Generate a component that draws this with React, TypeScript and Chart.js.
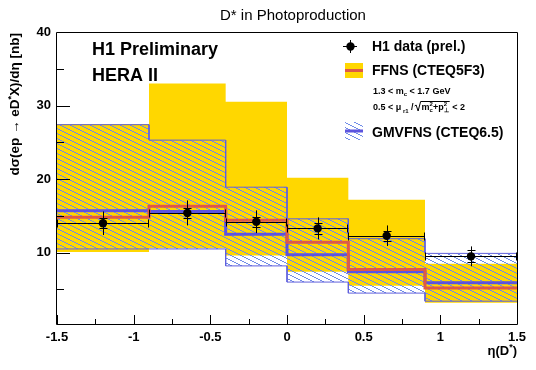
import React, { useEffect, useRef } from "react";
import { Chart, registerables } from "chart.js";

Chart.register(...registerables);

// ---- data ----
const binEdges = [-1.5, -0.9, -0.4, 0.0, 0.4, 0.9, 1.5];
const ffnsCentral = [14.8, 16.3, 14.4, 11.4, 7.7, 5.2];
const ffnsUpper = [27.5, 33.0, 30.5, 20.2, 17.2, 8.5];
const ffnsLower = [10.1, 10.6, 9.6, 7.4, 5.5, 3.2];
const gmvfnsCentral = [15.7, 15.6, 12.5, 9.7, 7.4, 5.9];
const gmvfnsUpper = [27.4, 25.3, 18.9, 14.6, 11.9, 9.9];
const gmvfnsLower = [10.5, 10.5, 8.2, 6.0, 4.5, 3.4];
const dataEta = [-1.2, -0.65, -0.2, 0.2, 0.65, 1.2];
const dataXsec = [14.0, 15.4, 14.2, 13.3, 12.3, 9.5];
const dataTotErr = [1.6, 1.7, 1.55, 1.5, 1.4, 1.35];
const dataStatErr = [0.7, 0.7, 0.7, 0.7, 0.7, 0.8];
const xMajorTicks = [-1.5, -1, -0.5, 0, 0.5, 1, 1.5];
const xTickLabels = ["-1.5", "-1", "-0.5", "0", "0.5", "1", "1.5"];
const yMajorTicks = [10, 20, 30, 40];
const yTickLabels = ["10", "20", "30", "40"];

const FONT = "'Liberation Sans', Arial, Helvetica, sans-serif";
const YELLOW = "rgb(255,215,0)";
const RED = "rgb(221,90,72)";
const BLUE = "rgb(92,84,222)";
const HATCH_BORDER = "rgb(96,96,220)";
const HATCH_LINE = "rgb(112,140,232)";

function stepPoints(edges: number[], vals: number[]) {
  const pts: { x: number; y: number }[] = [];
  vals.forEach((v, i) => {
    pts.push({ x: edges[i], y: v });
    pts.push({ x: edges[i + 1], y: v });
  });
  return pts;
}

function makeHatch(): CanvasPattern | string {
  const c = document.createElement("canvas");
  c.width = 10;
  c.height = 5;
  const g = c.getContext("2d");
  if (!g) return HATCH_LINE;
  g.fillStyle = HATCH_LINE;
  for (let x = 0; x < 10; x++) g.fillRect(x, Math.floor(x / 2), 1, 1);
  return g.createPattern(c, "repeat") || HATCH_LINE;
}

type Seg = { t: string; s: number; bold?: boolean; dy?: number; adv?: boolean };

function fontOf(sg: Seg) {
  return `${sg.bold === false ? "" : "bold "}${sg.s}px ${FONT}`;
}

function richWidth(ctx: CanvasRenderingContext2D, segs: Seg[]) {
  let w = 0;
  for (const sg of segs) {
    ctx.font = fontOf(sg);
    if (sg.adv !== false) w += ctx.measureText(sg.t).width;
  }
  return w;
}

function drawRich(ctx: CanvasRenderingContext2D, x: number, y: number, segs: Seg[], align: "left" | "right" | "center" = "left") {
  const total = richWidth(ctx, segs);
  let cx = align === "right" ? x - total : align === "center" ? x - total / 2 : x;
  ctx.textAlign = "left";
  ctx.textBaseline = "alphabetic";
  for (const sg of segs) {
    ctx.font = fontOf(sg);
    ctx.fillText(sg.t, cx, y + (sg.dy || 0));
    if (sg.adv !== false) cx += ctx.measureText(sg.t).width;
  }
  return cx;
}

const errorBarPlugin = {
  id: "h1ErrorBars",
  afterDatasetsDraw(chart: any) {
    const ctx: CanvasRenderingContext2D = chart.ctx;
    const xs = chart.scales.x;
    const ys = chart.scales.y;
    ctx.save();
    ctx.strokeStyle = "#000";
    ctx.lineWidth = 1;
    dataEta.forEach((eta, i) => {
      const px = Math.round(xs.getPixelForValue(eta)) + 0.5;
      const py = Math.round(ys.getPixelForValue(dataXsec[i])) + 0.5;
      const xl = xs.getPixelForValue(binEdges[i]);
      const xr = xs.getPixelForValue(binEdges[i + 1]);
      const yt = ys.getPixelForValue(dataXsec[i] + dataTotErr[i]);
      const yb = ys.getPixelForValue(dataXsec[i] - dataTotErr[i]);
      const st = Math.round(ys.getPixelForValue(dataXsec[i] + dataStatErr[i])) + 0.5;
      const sb = Math.round(ys.getPixelForValue(dataXsec[i] - dataStatErr[i])) + 0.5;
      ctx.beginPath();
      ctx.moveTo(xl, py);
      ctx.lineTo(xr, py);
      ctx.moveTo(Math.round(xl) + 0.5, py - 4);
      ctx.lineTo(Math.round(xl) + 0.5, py + 4);
      ctx.moveTo(Math.round(xr) - 0.5, py - 4);
      ctx.lineTo(Math.round(xr) - 0.5, py + 4);
      ctx.moveTo(px, yt);
      ctx.lineTo(px, yb);
      ctx.moveTo(px - 4, st);
      ctx.lineTo(px + 4, st);
      ctx.moveTo(px - 4, sb);
      ctx.lineTo(px + 4, sb);
      ctx.stroke();
    });
    ctx.restore();
  },
};

const makeDecorPlugin = (hatch: CanvasPattern | string) => ({
  id: "h1Decor",
  afterDraw(chart: any) {
    const ctx: CanvasRenderingContext2D = chart.ctx;
    const { left, right, top, bottom } = chart.chartArea;
    const xs = chart.scales.x;
    const ys = chart.scales.y;
    ctx.save();
    ctx.strokeStyle = "#000";
    ctx.lineWidth = 1;
    // ticks (inside)
    ctx.beginPath();
    xs.ticks.forEach((t: any) => {
      const px = Math.round(xs.getPixelForValue(t.value)) + 0.5;
      const len = t.label ? 9 : 5;
      ctx.moveTo(px, bottom);
      ctx.lineTo(px, bottom - len);
    });
    ys.ticks.forEach((t: any) => {
      const py = Math.round(ys.getPixelForValue(t.value)) + 0.5;
      const len = t.label ? 13 : 7;
      ctx.moveTo(left, py);
      ctx.lineTo(left + len, py);
    });
    ctx.stroke();
    // frame
    ctx.beginPath();
    ctx.moveTo(left - 0.5, top + 0.5);
    ctx.lineTo(right + 0.5, top + 0.5);
    ctx.lineTo(right + 0.5, bottom + 0.5);
    ctx.lineTo(left - 0.5, bottom + 0.5);
    ctx.closePath();
    ctx.stroke();

    ctx.fillStyle = "#000";
    // title
    ctx.font = `15px ${FONT}`;
    ctx.textAlign = "center";
    ctx.textBaseline = "alphabetic";
    ctx.fillText("D* in Photoproduction", 293, 20);

    // H1 labels
    drawRich(ctx, 92, 55, [{ t: "H1 Preliminary", s: 18 }]);
    drawRich(ctx, 92, 81, [{ t: "HERA II", s: 18 }]);

    // y axis title
    ctx.save();
    ctx.translate(19, 33);
    ctx.rotate(-Math.PI / 2);
    drawRich(
      ctx,
      0,
      0,
      [
        { t: "dσ(ep → eD", s: 13.5 },
        { t: "*", s: 9, dy: -5 },
        { t: "X)/dη [nb]", s: 13.5 },
      ],
      "right"
    );
    ctx.restore();

    // x axis title
    drawRich(
      ctx,
      517,
      355,
      [
        { t: "η(D", s: 13 },
        { t: "*", s: 9, dy: -5 },
        { t: ")", s: 13 },
      ],
      "right"
    );

    // legend: data
    ctx.beginPath();
    ctx.moveTo(343, 46.5);
    ctx.lineTo(357, 46.5);
    ctx.moveTo(350.5, 40);
    ctx.lineTo(350.5, 53);
    ctx.stroke();
    ctx.beginPath();
    ctx.arc(350.5, 46.5, 4.2, 0, Math.PI * 2);
    ctx.fill();
    drawRich(ctx, 372, 51, [{ t: "H1 data (prel.)", s: 14 }]);

    // legend: FFNS
    ctx.fillStyle = YELLOW;
    ctx.fillRect(345, 63, 18, 15);
    ctx.fillStyle = RED;
    ctx.fillRect(345, 69, 18, 3);
    ctx.fillStyle = "#000";
    drawRich(ctx, 372, 75, [{ t: "FFNS (CTEQ5F3)", s: 14 }]);

    drawRich(ctx, 373, 94, [
      { t: "1.3 < m", s: 9 },
      { t: "c", s: 6, dy: 2 },
      { t: " < 1.7 GeV", s: 9 },
    ]);

    const cx = drawRich(ctx, 373, 110, [
      { t: "0.5 < μ", s: 9 },
      { t: " r1", s: 6, dy: 3 },
      { t: " /", s: 9 },
    ]);
    // radical sign
    ctx.beginPath();
    ctx.moveTo(cx + 1, 106);
    ctx.lineTo(cx + 2.5, 105);
    ctx.lineTo(cx + 4.5, 111);
    ctx.lineTo(cx + 7, 101.5);
    const startB = cx + 8;
    const endB = drawRich(ctx, startB, 110, [
      { t: "m", s: 9 },
      { t: "2", s: 6, dy: -4, adv: false },
      { t: "c", s: 6, dy: 2 },
      { t: "+p", s: 9 },
      { t: "2", s: 6, dy: -4, adv: false },
      { t: "⊥", s: 6, dy: 2 },
    ]);
    ctx.lineTo(endB + 1, 101.5);
    ctx.stroke();
    drawRich(ctx, endB + 1, 110, [{ t: " < 2", s: 9 }]);

    // legend: GMVFNS
    ctx.fillStyle = hatch as any;
    ctx.fillRect(345, 122, 18, 18);
    ctx.fillStyle = BLUE;
    ctx.fillRect(345, 129.5, 18, 3);
    ctx.fillStyle = "#000";
    drawRich(ctx, 372, 137, [{ t: "GMVFNS (CTEQ6.5)", s: 14 }]);

    ctx.restore();
  },
});

function labelFrom(v: number, majors: number[], labels: string[]) {
  const i = majors.findIndex((m) => Math.abs(m - v) < 1e-9);
  return i >= 0 ? labels[i] : "";
}

export default function App() {
  const ref = useRef<HTMLCanvasElement | null>(null);

  useEffect(() => {
    document.body.style.margin = "0";
    const canvas = ref.current;
    if (!canvas) return;
    const hatch = makeHatch();
    const line = (data: any, extra: any) => ({
      type: "line",
      data,
      pointRadius: 0,
      tension: 0,
      fill: false,
      ...extra,
    });
    const chart = new Chart(canvas, {
      type: "line",
      data: {
        datasets: [
          line(stepPoints(binEdges, ffnsUpper), {
            fill: "+1",
            backgroundColor: YELLOW,
            borderColor: "rgba(0,0,0,0)",
            borderWidth: 0,
            order: 6,
          }),
          line(stepPoints(binEdges, ffnsLower), {
            borderColor: "rgba(0,0,0,0)",
            borderWidth: 0,
            order: 5,
          }),
          line(stepPoints(binEdges, gmvfnsUpper), {
            fill: "+1",
            backgroundColor: hatch,
            borderColor: HATCH_BORDER,
            borderWidth: 1,
            order: 4,
          }),
          line(stepPoints(binEdges, gmvfnsLower), {
            borderColor: HATCH_BORDER,
            borderWidth: 1,
            order: 3,
          }),
          line(stepPoints(binEdges, gmvfnsCentral), {
            borderColor: BLUE,
            borderWidth: 3,
            order: 2,
          }),
          line(stepPoints(binEdges, ffnsCentral), {
            borderColor: RED,
            borderWidth: 3,
            order: 1,
          }),
          {
            type: "scatter",
            data: dataEta.map((x, i) => ({ x, y: dataXsec[i] })),
            pointRadius: 4.2,
            pointBackgroundColor: "#000",
            pointBorderWidth: 0,
            showLine: false,
            order: 0,
          },
        ] as any,
      },
      options: {
        animation: false,
        responsive: false,
        devicePixelRatio: 1,
        events: [],
        layout: { padding: { left: 0, right: 19, top: 32, bottom: 0 } },
        plugins: {
          legend: { display: false },
          tooltip: { enabled: false },
          title: { display: false },
        },
        scales: {
          x: {
            type: "linear",
            min: -1.5,
            max: 1.5,
            grid: { display: false, drawTicks: false },
            border: { display: false },
            ticks: {
              stepSize: 0.25,
              autoSkip: false,
              maxRotation: 0,
              minRotation: 0,
              includeBounds: false,
              maxTicksLimit: 50,
              padding: 6,
              color: "#000",
              font: { family: FONT, size: 13, weight: "bold" },
              callback: (v: any) => labelFrom(Number(v), xMajorTicks, xTickLabels),
            },
            afterFit: (s: any) => {
              s.height = 46;
            },
          },
          y: {
            type: "linear",
            min: 0.3,
            max: 40,
            grid: { display: false, drawTicks: false },
            border: { display: false },
            ticks: {
              stepSize: 5,
              autoSkip: false,
              includeBounds: false,
              padding: 6,
              color: "#000",
              font: { family: FONT, size: 13, weight: "bold" },
              callback: (v: any) => labelFrom(Number(v), yMajorTicks, yTickLabels),
            },
            afterFit: (s: any) => {
              s.width = 57;
            },
          },
        },
      } as any,
      plugins: [errorBarPlugin, makeDecorPlugin(hatch)],
    });
    return () => chart.destroy();
  }, []);

  return (
    <div style={{ position: "absolute", left: 0, top: 0, width: 536, height: 370, background: "#fff" }}>
      <canvas ref={ref} width={536} height={370} style={{ display: "block", width: 536, height: 370 }} />
    </div>
  );
}
